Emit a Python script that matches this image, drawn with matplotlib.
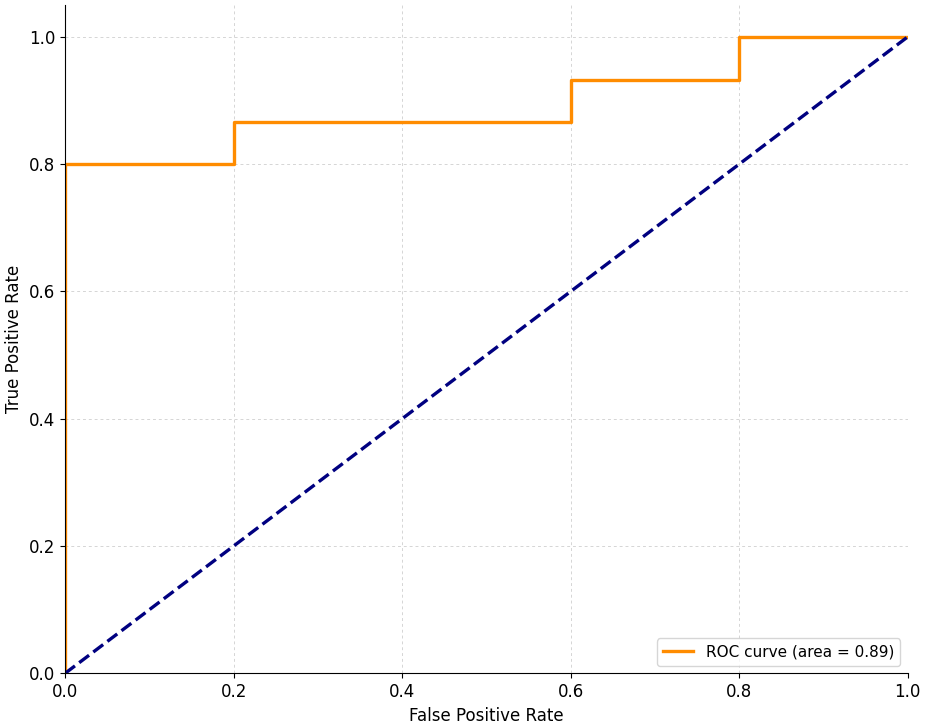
import matplotlib
matplotlib.use("Agg")
import matplotlib.pyplot as plt

# ROC curve points
fpr = [0.0, 0.0, 0.2, 0.2, 0.6, 0.6, 0.8, 0.8, 1.0]
tpr = [0.0, 0.8, 0.8, 0.867, 0.867, 0.933, 0.933, 1.0, 1.0]
roc_auc = 0.89
diag = [0.0, 1.0]

fig, ax = plt.subplots(figsize=(9.3, 7.24), dpi=100)
ax.plot(fpr, tpr, color='darkorange', lw=2.4, label='ROC curve (area = %0.2f)' % roc_auc)
ax.plot(diag, diag, color='navy', lw=2.4, linestyle='--')
ax.set_xlim(0.0, 1.0)
ax.set_ylim(0.0, 1.05)
ax.set_xlabel('False Positive Rate', fontsize=12)
ax.set_ylabel('True Positive Rate', fontsize=12)
ax.tick_params(labelsize=12)
ax.spines['top'].set_visible(False)
ax.spines['right'].set_visible(False)
ax.grid(True, linestyle=(0, (3, 3)), color='#d5d5d5', linewidth=0.7)
ax.legend(loc='lower right', fontsize=11)
fig.subplots_adjust(left=0.07, right=0.976, bottom=0.07, top=0.993)
fig.savefig('out.png', dpi=100)
